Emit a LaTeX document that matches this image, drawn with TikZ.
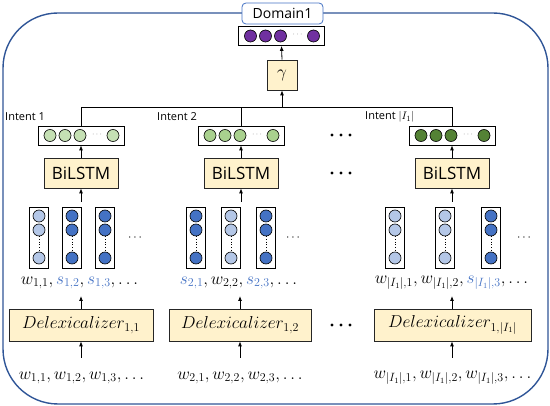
\documentclass[tikz,border=0pt]{standalone}
\usepackage[no-math]{fontspec}
\setmainfont{Open Sans}
\usetikzlibrary{arrows.meta}
\definecolor{frameblue}{HTML}{2F5597}
\definecolor{domblue}{HTML}{4472C4}
\definecolor{sblue}{HTML}{4472C4}
\definecolor{lightb}{HTML}{B4C7E7}
\definecolor{darkb}{HTML}{4472C4}
\definecolor{purp}{HTML}{7030A0}
\definecolor{gA}{HTML}{C5E0B4}
\definecolor{gB}{HTML}{A9D18E}
\definecolor{gC}{HTML}{548235}
\definecolor{boxfill}{HTML}{FFF2CC}
\tikzset{
  frame/.style={draw=frameblue, line width=1.4pt, rounded corners=55pt, inner sep=0pt},
  dombox/.style={draw=domblue, fill=white, line width=0.8pt, rounded corners=4pt, minimum width=81pt, minimum height=21pt, inner sep=0pt, font=\fontsize{14}{16}\selectfont},
  vbox/.style={draw=black, fill=white, line width=0.8pt, minimum width=86pt, minimum height=19pt, inner sep=0pt},
  colbox/.style={draw=black, fill=white, line width=0.8pt, minimum width=19pt, minimum height=61pt, inner sep=0pt},
  dot/.style={circle, draw=black, line width=0.6pt, minimum size=12pt, inner sep=0pt},
  yellowbox/.style={draw=black!85, fill=boxfill, line width=0.8pt, inner sep=0pt},
  bilstm/.style={yellowbox, minimum width=74pt, minimum height=30pt, font=\fontsize{17}{20}\selectfont},
  delex/.style={yellowbox, minimum height=32pt, font=\fontsize{16.5}{19}\selectfont},
  word/.style={inner sep=0pt, font=\fontsize{17}{20}\selectfont},
  intent/.style={inner sep=0pt, anchor=west, font=\fontsize{11}{13}\selectfont},
  arr/.style={-{Latex[length=5pt,width=4pt]}, line width=0.8pt},
  bus/.style={line width=0.8pt},
}
\newcommand\hvecbox[4]{%
  \node[vbox] (#1) at (#2,#3) {};
  \foreach \o/\k in {-31/a,-16/b,-1/c,32/e}{
    \node[dot, fill=#4] (#1-\k) at (#2+\o,#3) {};
  }
  \node[inner sep=0pt, text=black!55, font=\fontsize{8}{9}\selectfont] (#1-d) at (#2+16,#3-1) {$\cdots$};
}
\newcommand\colvec[3]{%
  \node[colbox] (#1) at (#2,237.5) {};
  \node[dot, fill=#3] (#1-a) at (#2,216) {};
  \node[dot, fill=#3] (#1-b) at (#2,230) {};
  \node[dot, fill=#3] (#1-c) at (#2,258) {};
  \draw[dotted, line width=0.7pt] (#1-b.south) -- (#1-c.north);
}
\begin{document}
\begin{tikzpicture}[x=1pt,y=-1pt]
\useasboundingbox (0,0) rectangle (550,406);
% outer frame
\node[frame, minimum width=545pt, minimum height=391pt] (outer) at (275.5,208.5) {};
\node[dombox] (domlabel) at (282.5,13.5) {Domain1};
% domain vector
\hvecbox{dom}{281.5}{36}{purp}
% gamma
\node[yellowbox, minimum width=30pt, minimum height=30pt, font=\fontsize{18}{20}\selectfont] (gam) at (282,75) {$\gamma$};
\draw[arr] (gam.north) -- (dom.south);
% intent vectors
\hvecbox{iv1}{81}{135.5}{gA}
\hvecbox{iv2}{241}{135.5}{gB}
\hvecbox{iv3}{452}{135.5}{gC}
\node[intent] (lab1) at (5,117) {Intent 1};
\node[intent] (lab2) at (157,117) {Intent 2};
\node[intent] (lab3) at (365,117) {Intent $|I_1|$};
% bus
\coordinate (bus1) at (81,107);
\coordinate (bus2) at (241,107);
\coordinate (bus3) at (452,107);
\coordinate (busg) at (282,107);
\draw[bus] (iv1.north) -- (bus1) -- (bus3) -- (iv3.north);
\draw[bus] (iv2.north) -- (bus2);
\draw[arr] (busg) -- (gam.south);
% ellipsis dots
\foreach \yy in {135,173,325}{
  \foreach \xx in {332,341,350}{\fill (\xx,\yy) circle (1.6pt);}
}
% BiLSTMs
\node[bilstm] (bl1) at (81,173) {BiLSTM};
\node[bilstm] (bl2) at (241,173) {BiLSTM};
\node[bilstm] (bl3) at (452,173) {BiLSTM};
\foreach \i in {1,2,3}{\draw[arr] (bl\i.north) -- (iv\i.south);}
\coordinate (in1) at (81,202);
\coordinate (in2) at (241,202);
\coordinate (in3) at (452,202);
\foreach \i in {1,2,3}{\draw[arr] (in\i) -- (bl\i.south);}
% word vectors
\colvec{c11}{39}{lightb}
\colvec{c12}{72}{darkb}
\colvec{c13}{105}{darkb}
\node[inner sep=0pt, font=\fontsize{13}{15}\selectfont] (e1) at (135,238) {$\cdots$};
\colvec{c21}{196}{darkb}
\colvec{c22}{231}{lightb}
\colvec{c23}{266}{darkb}
\node[inner sep=0pt, font=\fontsize{13}{15}\selectfont] (e2) at (293,238) {$\cdots$};
\colvec{c31}{395}{lightb}
\colvec{c32}{445}{lightb}
\colvec{c33}{491}{darkb}
\node[inner sep=0pt, font=\fontsize{13}{15}\selectfont] (e3) at (524,238) {$\cdots$};
% middle words
\node[word] (m1) at (79.5,283) {$w_{1,1}, {\color{sblue}s_{1,2}}, {\color{sblue}s_{1,3}}, \ldots$};
\node[word] (m2) at (238.5,283) {${\color{sblue}s_{2,1}}, w_{2,2}, {\color{sblue}s_{2,3}}, \ldots$};
\node[word] (m3) at (451.5,283) {$w_{|I_1|,1}, w_{|I_1|,2}, {\color{sblue}s_{|I_1|,3}}, \ldots$};
% delexicalizers
\node[delex, minimum width=144pt] (dx1) at (81,325) {$Delexicalizer_{1,1}$};
\node[delex, minimum width=142pt] (dx2) at (240,325) {$Delexicalizer_{1,2}$};
\node[delex, minimum width=157pt] (dx3) at (452.5,325) {$Delexicalizer_{1,|I_1|}$};
\coordinate (o1) at (81,296);
\coordinate (o2) at (240,296);
\coordinate (o3) at (452,296);
\coordinate (i1) at (81,358);
\coordinate (i2) at (240,358);
\coordinate (i3) at (452,358);
\foreach \i in {1,2,3}{
  \draw[arr] (dx\i.north -| o\i) -- (o\i);
  \draw[arr] (i\i) -- (dx\i.south -| i\i);
}
% bottom words
\node[word] (b1) at (81.5,378) {$w_{1,1}, w_{1,2}, w_{1,3}, \ldots$};
\node[word] (b2) at (240,378) {$w_{2,1}, w_{2,2}, w_{2,3}, \ldots$};
\node[word] (b3) at (452.5,378) {$w_{|I_1|,1}, w_{|I_1|,2}, w_{|I_1|,3}, \ldots$};
\end{tikzpicture}
\end{document}
